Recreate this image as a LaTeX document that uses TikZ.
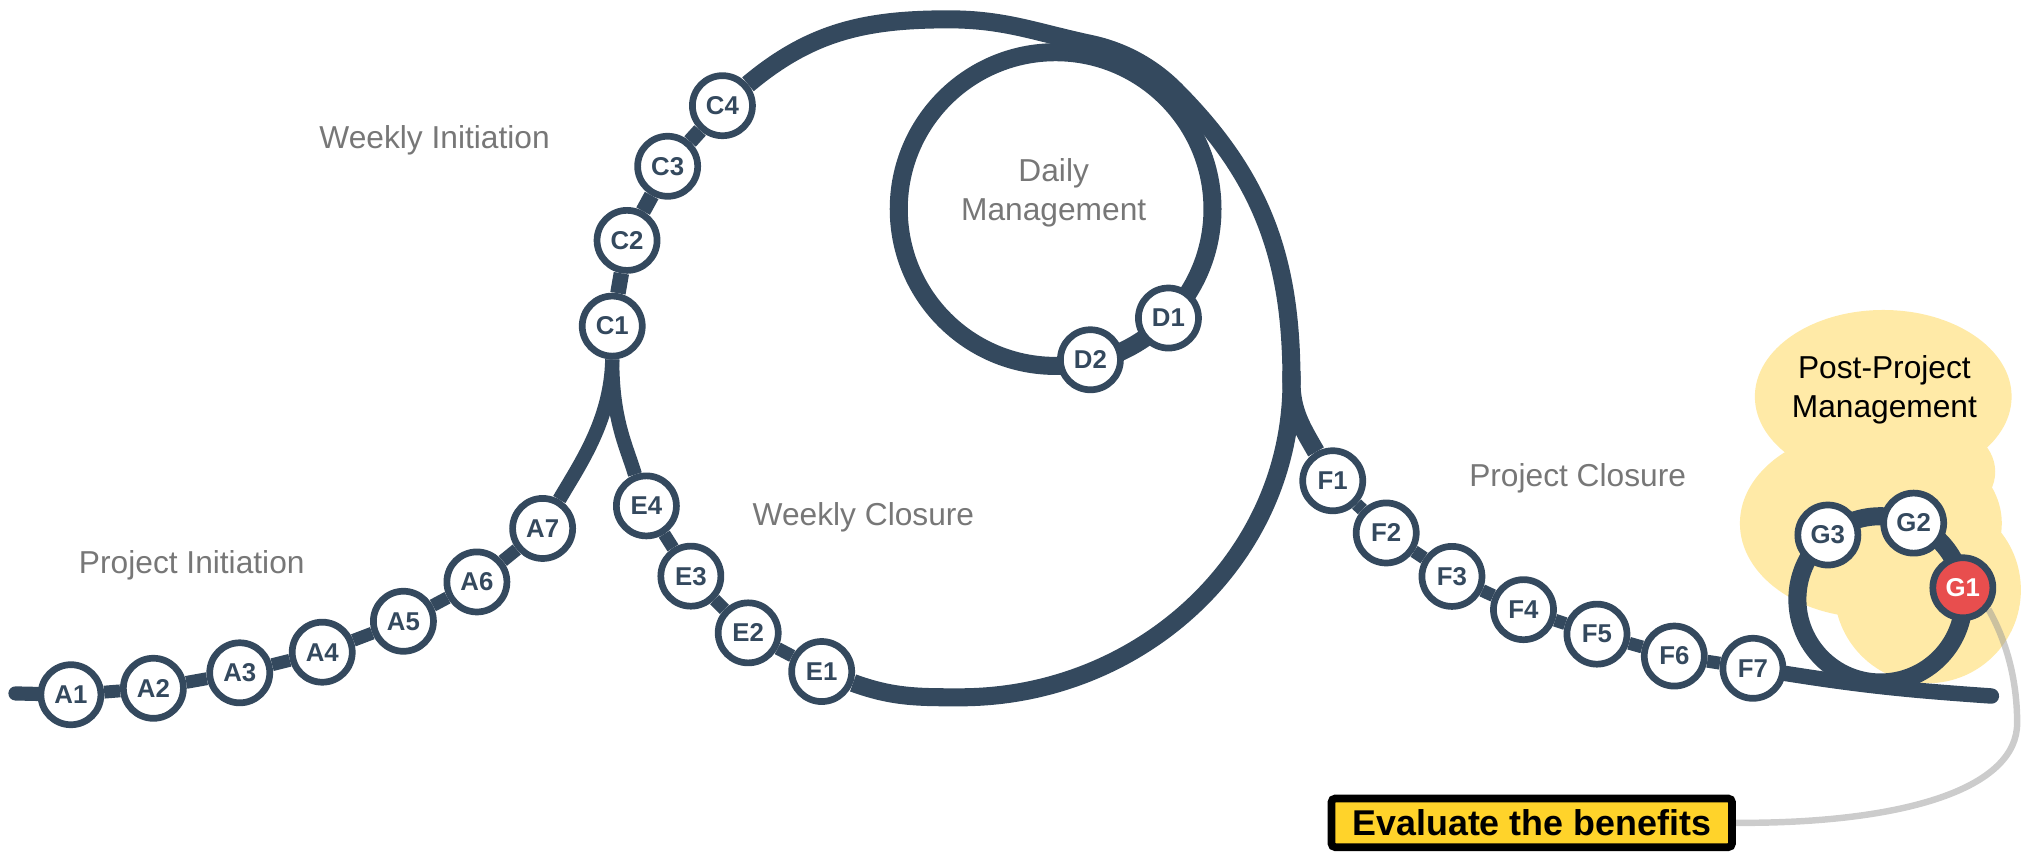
\documentclass[tikz,border=0pt]{standalone}
\usepackage{fontspec}
\setmainfont{Liberation Sans}
\definecolor{navy}{HTML}{34495E}
\definecolor{lblgray}{HTML}{777777}
\definecolor{blobyellow}{HTML}{FFEAA7}
\definecolor{boxyellow}{HTML}{FFD32A}
\definecolor{redstop}{HTML}{E84E4E}
\definecolor{linkgray}{HTML}{999999}
\pgfdeclarelayer{blob}
\pgfdeclarelayer{lines}
\pgfsetlayers{blob,lines,main}
\begin{document}
\begin{tikzpicture}[x=0.5pt,y=0.5pt,
  stn/.style={circle,draw=navy,line width=2.6pt,fill=white,minimum size=23.3pt,inner sep=0pt,text=navy,font=\bfseries\fontsize{10}{11}\selectfont},
  ln/.style={draw=navy,line width=5pt},
  lnk/.style={draw=navy,line width=7pt},
  lbl/.style={text=lblgray,font=\fontsize{12.3}{15.1}\selectfont,align=center,inner sep=0pt},
  evbox/.style={draw=black,line width=3pt,rounded corners=1.5pt,fill=boxyellow,minimum width=155.4pt,minimum height=18.9pt,inner sep=0pt,font=\bfseries\fontsize{13.9}{16}\selectfont},
  glink/.style={draw=linkgray,draw opacity=0.5,line width=2.5pt}]

\useasboundingbox (0,0) rectangle (1568,661);

% helper coordinates
\coordinate (lstart) at (12,123);
\coordinate (lend) at (1545,121);
\coordinate (peak) at (736,646);
\coordinate (arcin) at (846.2,626.9);
\coordinate (cusp) at (1002,365);
\coordinate (wbot) at (745,120);
\coordinate (dctr) at (819,498.8);
\coordinate (gctr) at (1459,196);

% stations
\node[stn] (A1) at (55,122) {A1};
\node[stn] (A2) at (119,127) {A2};
\node[stn] (A3) at (186,139) {A3};
\node[stn] (A4) at (250,155) {A4};
\node[stn] (A5) at (313,179) {A5};
\node[stn] (A6) at (370,209.5) {A6};
\node[stn] (A7) at (421,251) {A7};
\node[stn] (C1) at (475,408) {C1};
\node[stn] (C2) at (486.5,474.5) {C2};
\node[stn] (C3) at (518,532) {C3};
\node[stn] (C4) at (560.5,579) {C4};
\path (dctr) ++(-44:121.7) node[stn] (D1) {D1};
\path (dctr) ++(-77:120) node[stn] (D2) {D2};
\node[stn] (E4) at (501.5,268.5) {E4};
\node[stn] (E3) at (536,214) {E3};
\node[stn] (E2) at (580.5,170) {E2};
\node[stn] (E1) at (637.5,140) {E1};
\node[stn] (F1) at (1034,288) {F1};
\node[stn] (F2) at (1075.5,247.5) {F2};
\node[stn] (F3) at (1126.5,213.8) {F3};
\node[stn] (F4) at (1182,188) {F4};
\node[stn] (F5) at (1239,169) {F5};
\node[stn] (F6) at (1299,152) {F6};
\node[stn] (F7) at (1360,142.5) {F7};
\path (gctr) ++(8:64.5) node[stn,fill=redstop,text=white] (G1) {G1};
\path (gctr) ++(66.5:64.5) node[stn] (G2) {G2};
\path (gctr) ++(129.3:64.5) node[stn] (G3) {G3};

% labels
\node[lbl] (lwi) at (337.2,552) {Weekly Initiation};
\node[lbl] (ldm) at (817.5,511.3) {Daily\\Management};
\node[lbl] (lpi) at (148.8,222.7) {Project Initiation};
\node[lbl] (lwc) at (669.9,260) {Weekly Closure};
\node[lbl] (lpc) at (1224,290.3) {Project Closure};
\node[lbl,text=black] (lppm) at (1462,358.5) {Post-Project\\Management};
\node[evbox] (ev) at (1188.4,22.6) {Evaluate the benefits};

% yellow cloud
\begin{pgfonlayer}{blob}
\fill[blobyellow] (1461.1,353.3) ellipse [x radius=99.6, y radius=67.2];
\fill[blobyellow] (1451.5,255) ellipse [x radius=101.6, y radius=73.2];
\fill[blobyellow] (1500,295) ellipse [x radius=48, y radius=38];
\fill[blobyellow] (1495.5,203.3) circle [radius=72.4];
\end{pgfonlayer}

% tracks
\begin{pgfonlayer}{lines}
\draw[glink] (G1.-40) .. controls (1556,165) and (1565,135) .. (1565,100) .. controls (1565,50) and (1480,22) .. (ev.east);
\draw[ln,line cap=round,line width=5.5pt] (lstart) -- (A1);
\draw[ln] (A1) -- (A2) -- (A3) -- (A4) -- (A5) -- (A6) -- (A7);
\draw[ln,line width=5.5pt] (A7.60) .. controls (450,301) and (474,335) .. (C1.south);
\draw[ln,line width=5.5pt] (C1.south) .. controls (475,335) and (486,315) .. (E4.110);
\draw[ln] (E4) -- (E3) -- (E2) -- (E1);
\draw[lnk] (E1) to[out=-20,in=180] (wbot) to[out=0,in=-90] (cusp) -- ++(0,8);
\draw[ln,line width=6pt] (C1) -- (C2) -- (C3) -- (C4);
\draw[lnk] (C4) to[out=40,in=180] (peak) to[out=0,in=168] (arcin)
  arc[start angle=78, end angle=45, radius=131]
  .. controls (979.1,523.9) and (1002,460.4) .. (cusp) to[out=-90,in=120] (F1);
\draw[lnk] (dctr) circle [radius=121.7];
\draw[ln] (F1) -- (F2) -- (F3) -- (F4) -- (F5) -- (F6) -- (F7);
\draw[ln,line width=6pt,line cap=round] (F7) to[out=-9,in=176] (lend);
\draw[lnk] (gctr) circle [radius=64.5];
\end{pgfonlayer}
\end{tikzpicture}
\end{document}
